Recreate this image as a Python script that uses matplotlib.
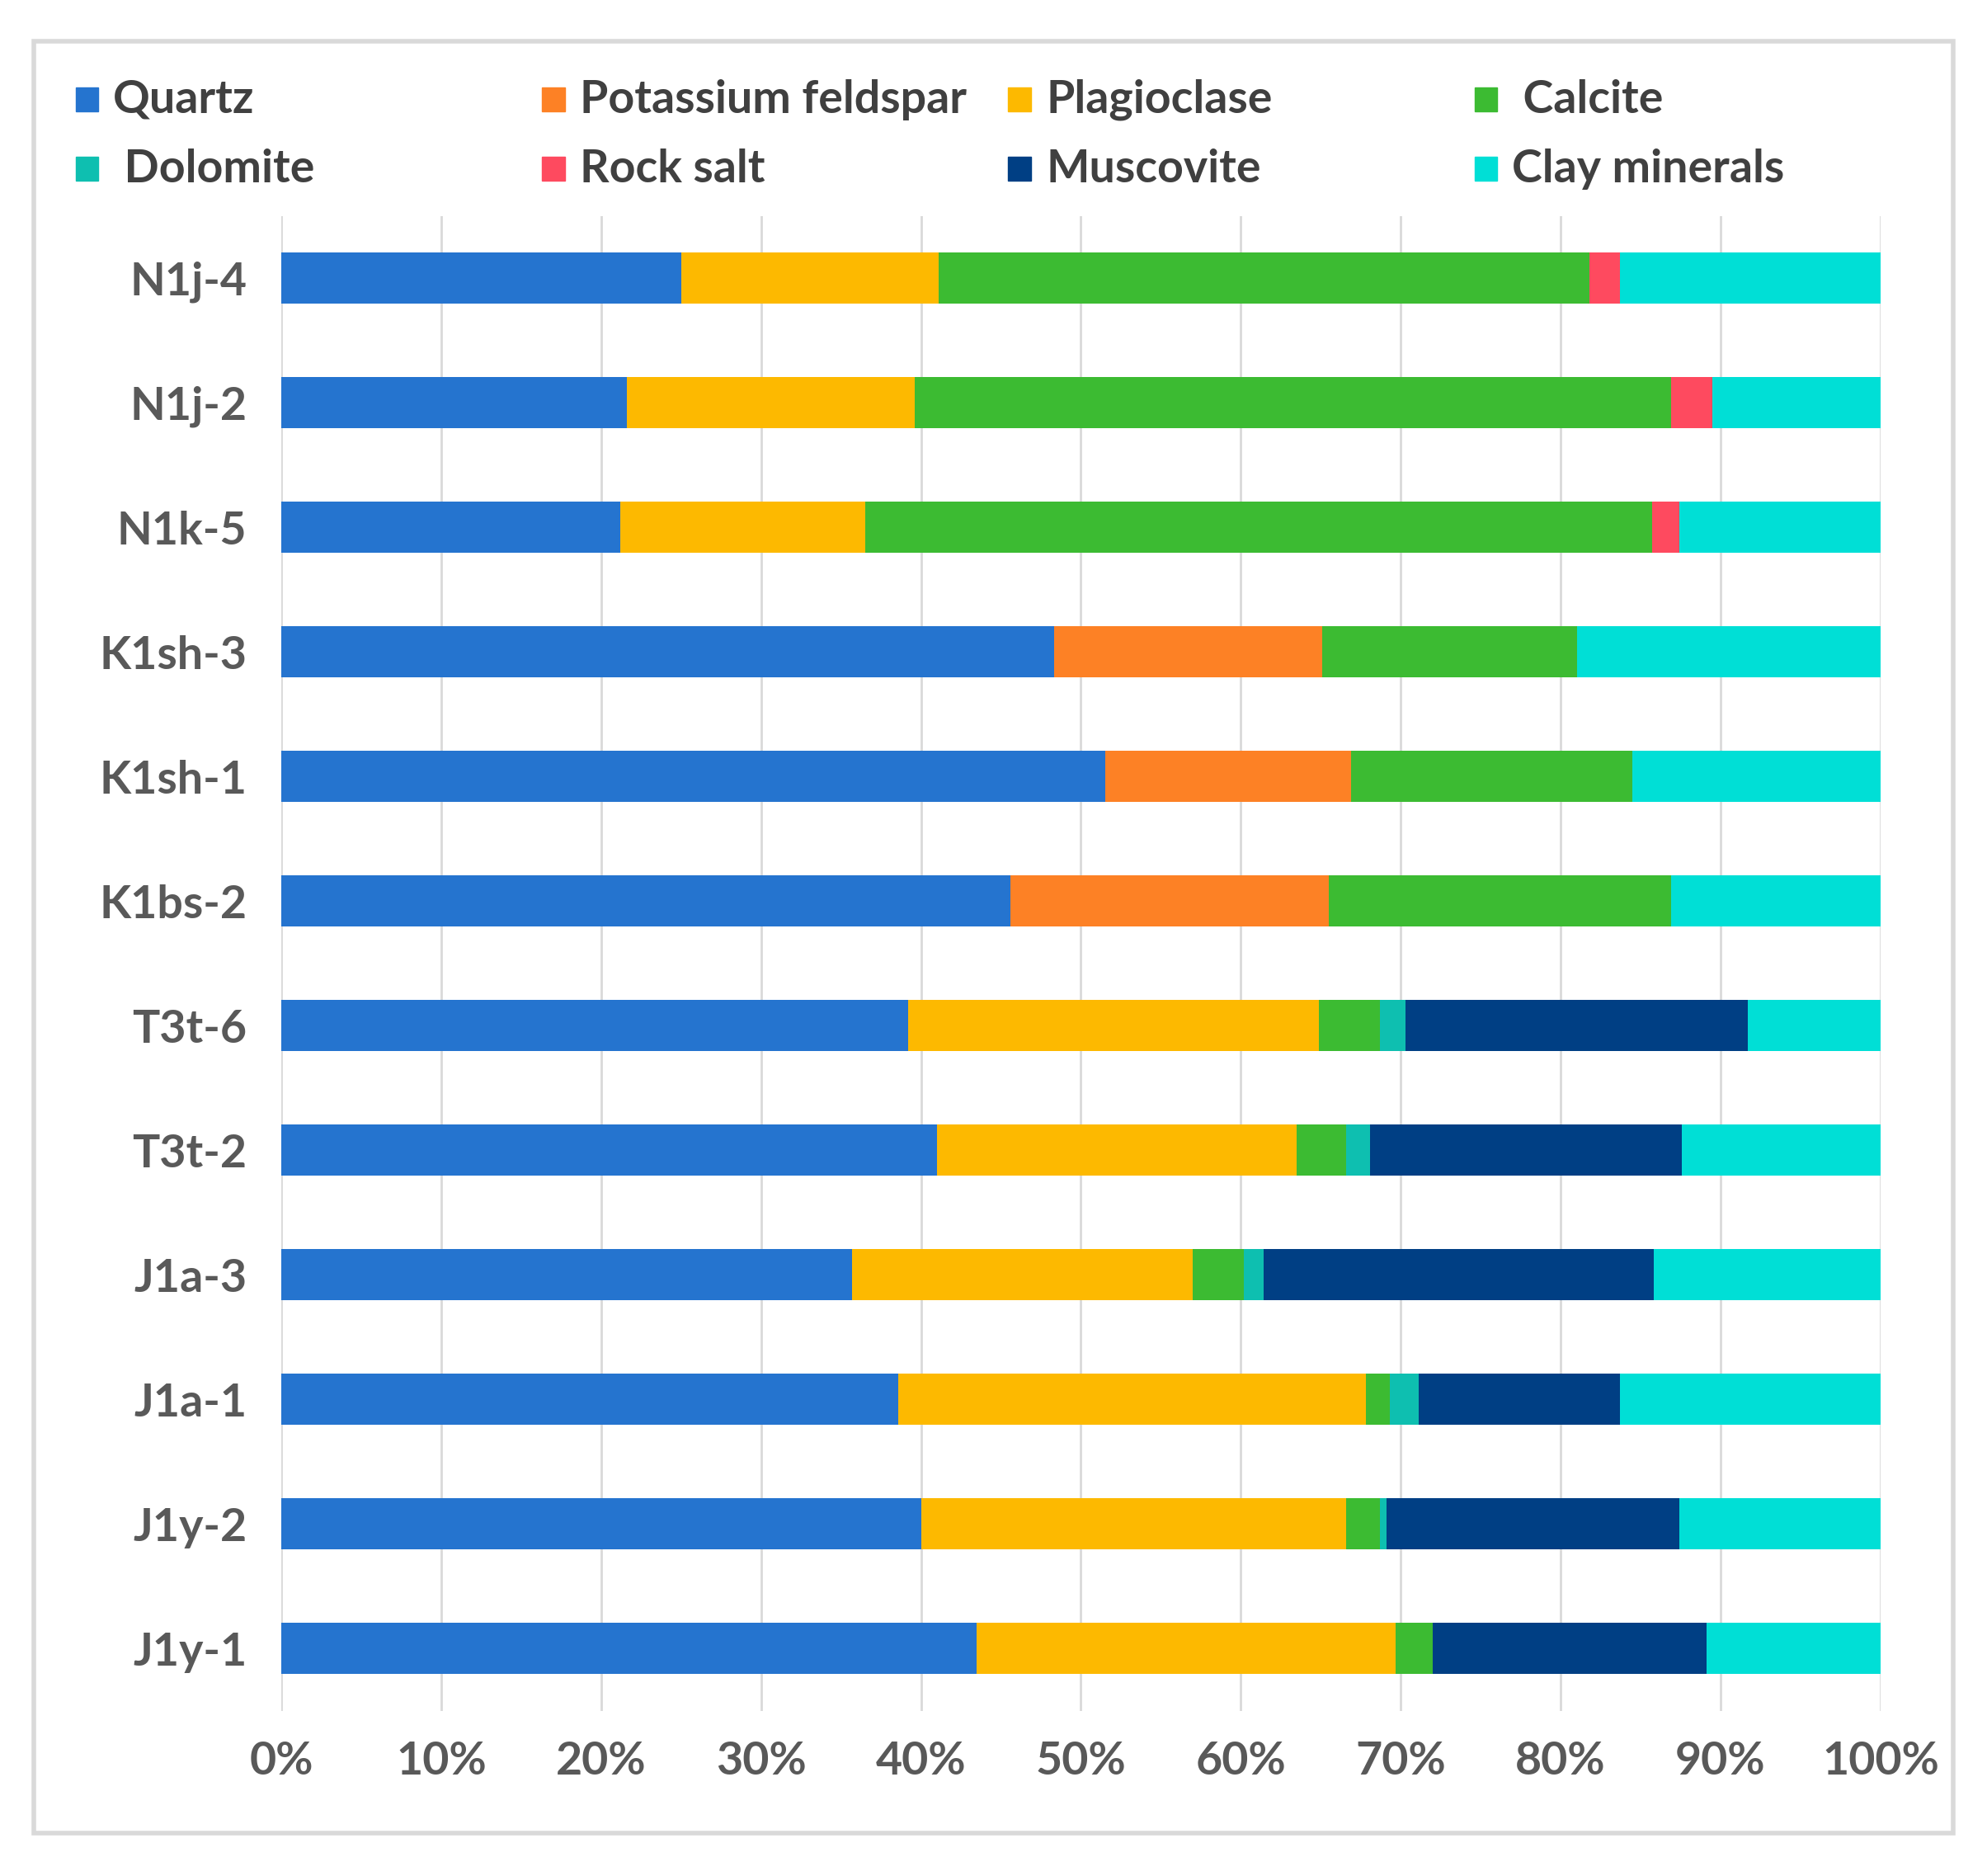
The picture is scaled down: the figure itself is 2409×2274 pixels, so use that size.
import matplotlib
matplotlib.use('Agg')
import matplotlib.pyplot as plt
from matplotlib.patches import Rectangle
import numpy as np

samples = ['N1j-4', 'N1j-2', 'N1k-5', 'K1sh-3', 'K1sh-1', 'K1bs-2',
           'T3t-6', 'T3t-2', 'J1a-3', 'J1a-1', 'J1y-2', 'J1y-1']
minerals = ['Quartz', 'Potassium feldspar', 'Plagioclase', 'Calcite',
            'Dolomite', 'Rock salt', 'Muscovite', 'Clay minerals']

# percentages per sample
quartz      = [25.0, 21.6, 21.2, 48.3, 51.5, 45.6, 39.2, 41.0, 35.7, 38.6, 40.0, 43.5]
k_feldspar  = [0.0, 0.0, 0.0, 16.8, 15.4, 19.9, 0.0, 0.0, 0.0, 0.0, 0.0, 0.0]
plagioclase = [16.1, 18.0, 15.3, 0.0, 0.0, 0.0, 25.7, 22.5, 21.3, 29.2, 26.6, 26.2]
calcite     = [40.7, 47.3, 49.2, 15.9, 17.6, 21.4, 3.8, 3.1, 3.2, 1.5, 2.1, 2.3]
dolomite    = [0.0, 0.0, 0.0, 0.0, 0.0, 0.0, 1.6, 1.5, 1.2, 1.8, 0.4, 0.0]
rock_salt   = [1.9, 2.6, 1.7, 0.0, 0.0, 0.0, 0.0, 0.0, 0.0, 0.0, 0.0, 0.0]
muscovite   = [0.0, 0.0, 0.0, 0.0, 0.0, 0.0, 21.4, 19.5, 24.4, 12.6, 18.3, 17.1]
clay        = [16.3, 10.5, 12.6, 19.0, 15.5, 13.1, 8.3, 12.4, 14.2, 16.3, 12.6, 10.9]

series = [quartz, k_feldspar, plagioclase, calcite, dolomite, rock_salt, muscovite, clay]
colors = ['#2574CF', '#FD8125', '#FDB900', '#3CBB32',
          '#0EBFB0', '#FE4A5F', '#003F84', '#00DFD6']

plt.rcParams['font.family'] = ['Liberation Sans Narrow', 'Lato', 'DejaVu Sans']

fig = plt.figure(figsize=(24.09, 22.74), dpi=100)
ax = fig.add_axes([0.1416, 0.088, 0.8048, 0.797])

y = np.arange(len(samples))
left = np.zeros(len(samples))
for vals, c in zip(series, colors):
    vals = np.array(vals)
    ax.barh(y, vals, left=left, height=0.41, color=c, zorder=3)
    left += vals

ax.set_xlim(0, 100)
ax.set_ylim(len(samples) - 0.5, -0.5)
ax.set_xticks(np.arange(0, 101, 10))
ax.set_xticklabels(['%d%%' % v for v in range(0, 101, 10)])
ax.set_yticks(y)
ax.set_yticklabels(samples)
ax.grid(axis='x', color='#D9D9D9', linewidth=2, zorder=0)
for s in ax.spines.values():
    s.set_visible(False)
ax.tick_params(length=0, labelsize=40, labelcolor='#595959')
ax.tick_params(axis='x', pad=26)
ax.tick_params(axis='y', pad=30)
for lab in ax.get_xticklabels() + ax.get_yticklabels():
    lab.set_fontweight('bold')

# legend, 4 columns x 2 rows
for i, (name, c) in enumerate(zip(minerals, colors)):
    col, row = i % 4, i // 4
    x0 = 0.038 + col * 0.2347
    y0 = 0.947 - row * 0.037
    fig.patches.append(Rectangle((x0, y0 - 0.0065), 0.0115, 0.013,
                                 transform=fig.transFigure, color=c))
    label = (' ' + name) if name in ('Calcite', 'Dolomite') else name
    fig.text(x0 + 0.019, y0, label, fontsize=40, fontweight='bold',
             color='#404040', va='center', ha='left')

# outer frame
fig.patches.append(Rectangle((0.0172, 0.023), 0.9656, 0.955, transform=fig.transFigure,
                             fill=False, edgecolor='#D9D9D9', linewidth=4))

fig.savefig('out.png', dpi=100)
